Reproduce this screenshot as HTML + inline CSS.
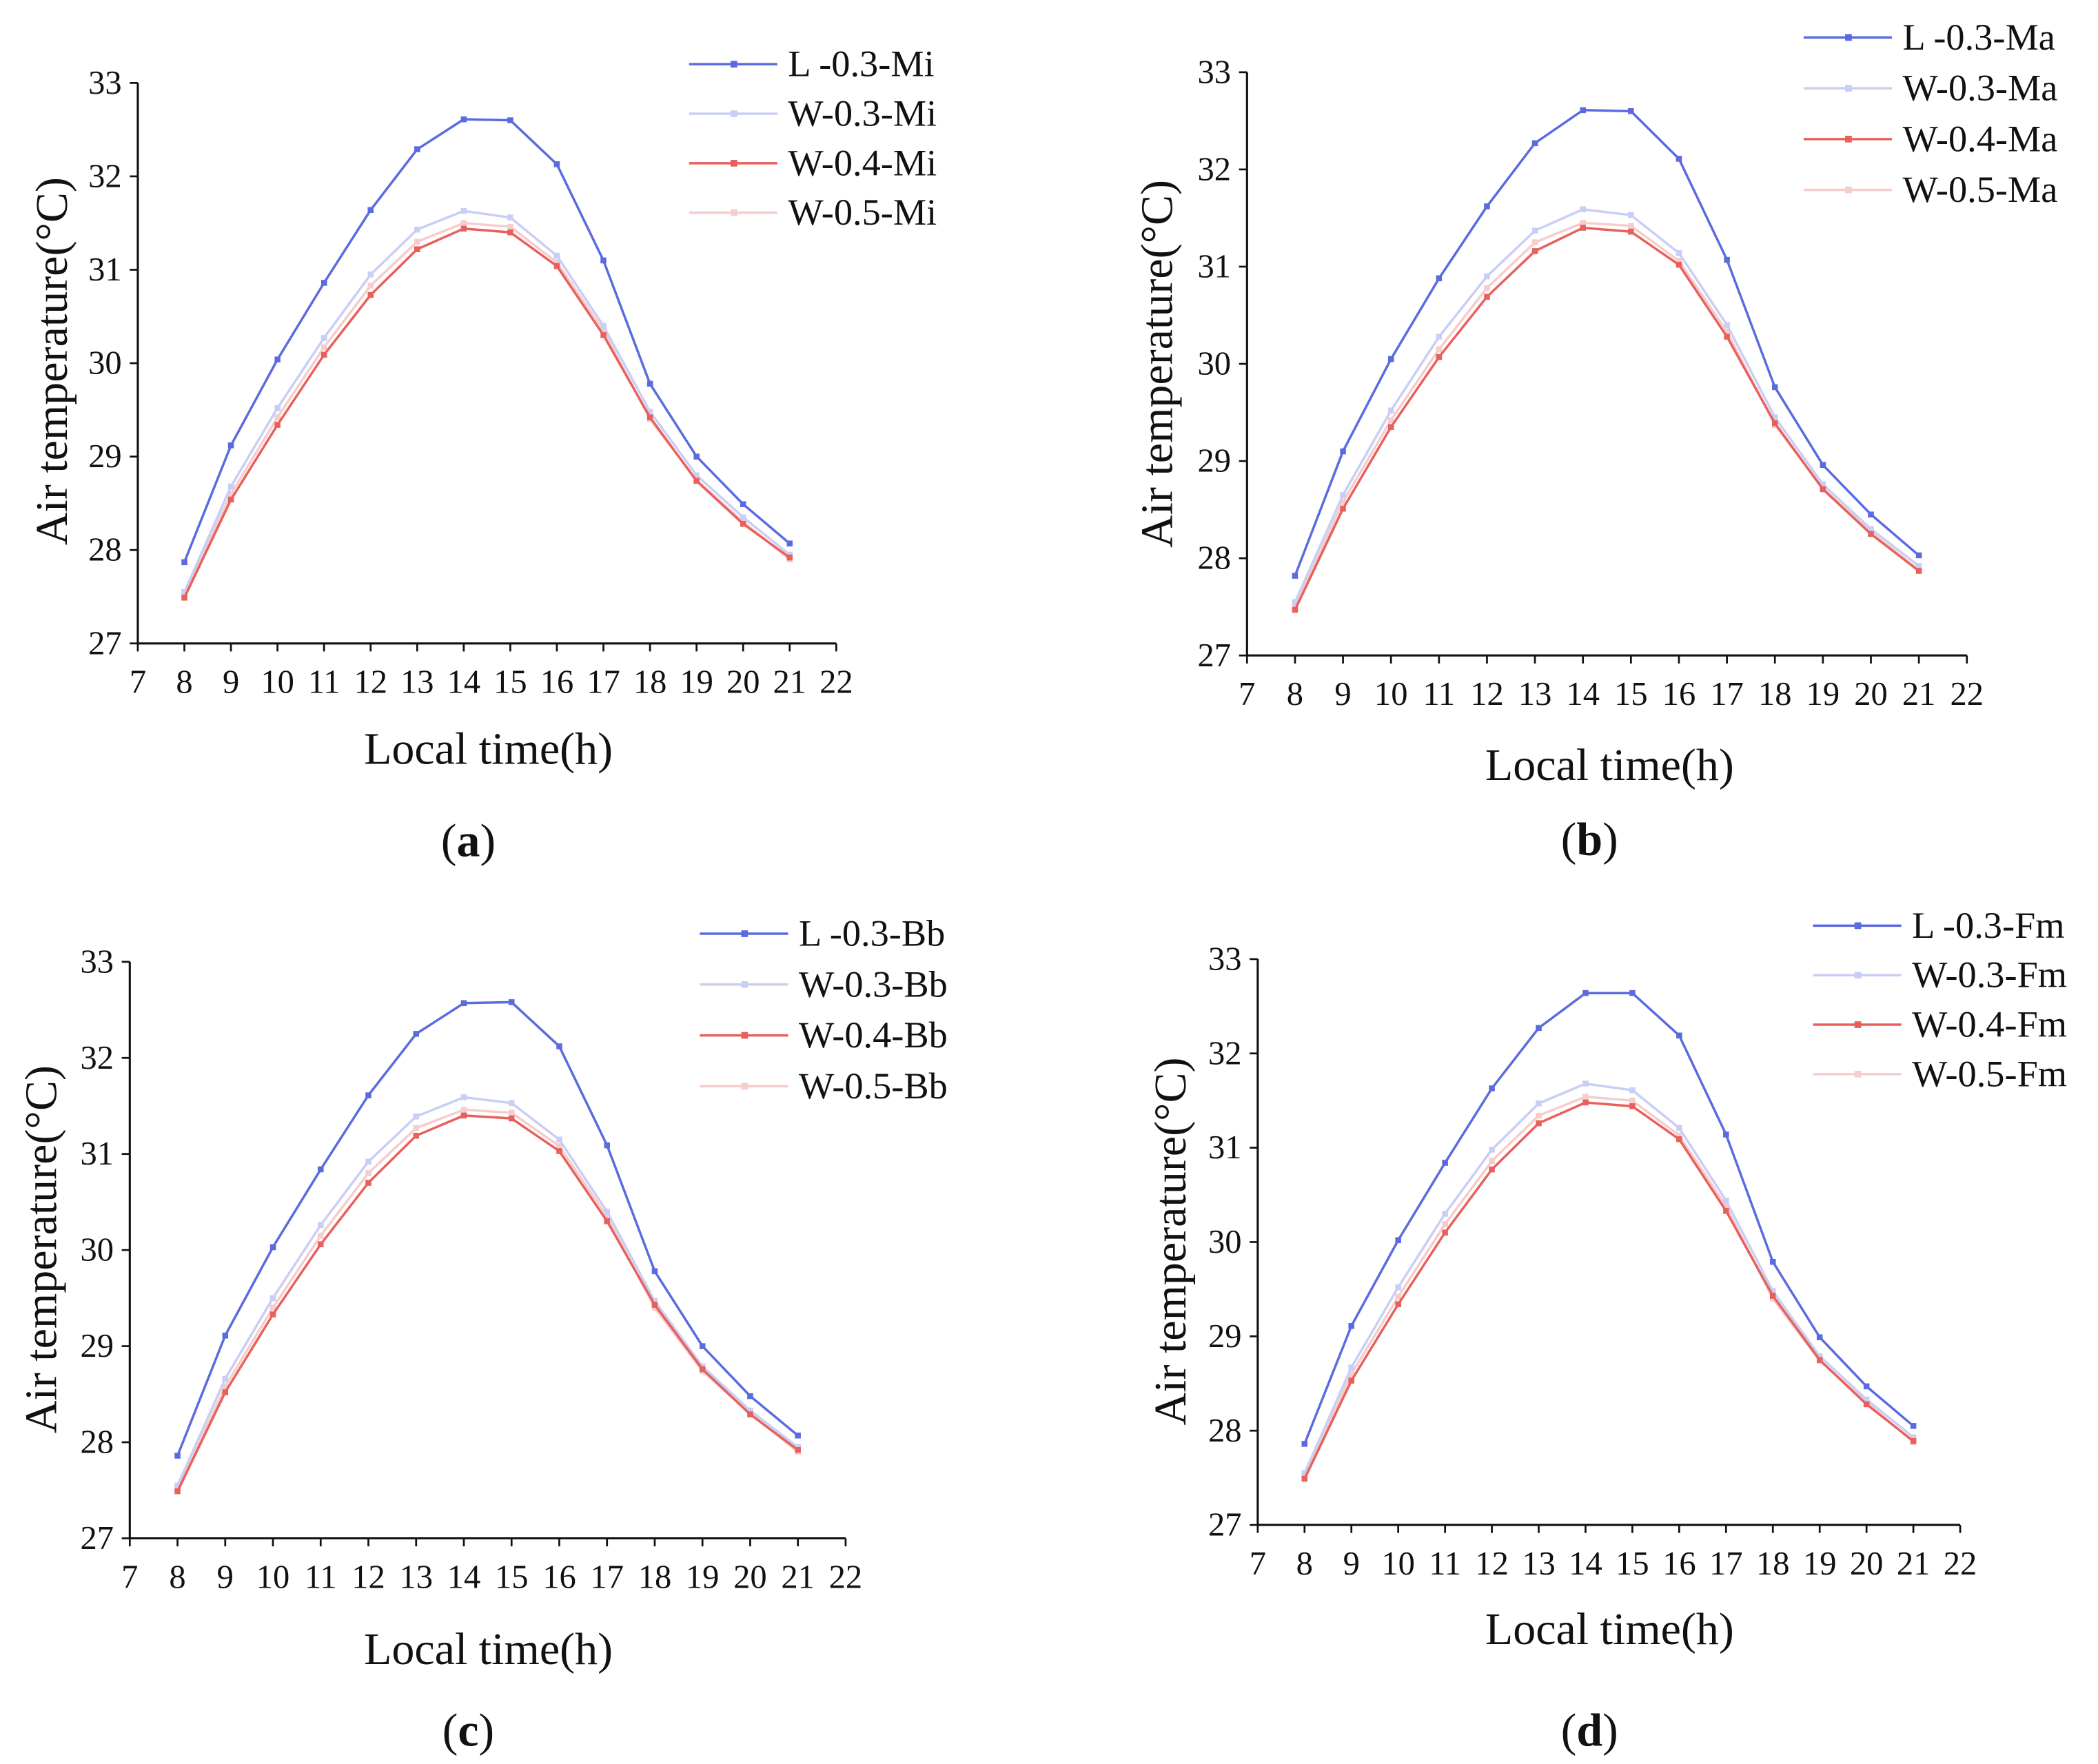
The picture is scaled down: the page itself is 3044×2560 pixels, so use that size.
<!DOCTYPE html>
<html><head><meta charset="utf-8"><style>
html,body{margin:0;padding:0;background:#fff;}
svg{display:block;}
text{font-family:"Liberation Serif",serif;fill:#111;}
</style></head><body>
<svg id="chart" width="3044" height="2560" viewBox="0 0 1568 1318.7" preserveAspectRatio="none" xmlns="http://www.w3.org/2000/svg"></svg>
<script>
const hours = [8,9,10,11,12,13,14,15,16,17,18,19,20,21];
const xTicks = [7,8,9,10,11,12,13,14,15,16,17,18,19,20,21,22];
const yTicks = [27,28,29,30,31,32,33];
const seriesNames = ["L -0.3","W-0.3","W-0.4","W-0.5"];
const seriesColors = ["#5a6be0","#c9cef6","#e8605c","#f6cccc"];
const panelSuffix = ["Mi","Ma","Bb","Fm"];
const panelLetters = ["a","b","c","d"];
const aL = [27.87,29.12,30.04,30.86,31.64,32.29,32.61,32.60,32.13,31.10,29.78,29.00,28.49,28.07];
const aW3 = [27.55,28.68,29.52,30.27,30.95,31.43,31.63,31.56,31.15,30.40,29.48,28.80,28.35,27.95];
const aW4 = [27.49,28.54,29.34,30.09,30.73,31.22,31.44,31.40,31.04,30.30,29.42,28.74,28.28,27.92];
const aW5 = [27.52,28.60,29.42,30.17,30.83,31.30,31.50,31.46,31.08,30.35,29.40,28.75,28.30,27.90];
const bL = [27.82,29.10,30.05,30.88,31.62,32.27,32.61,32.60,32.11,31.07,29.76,28.96,28.45,28.03];
const bW3 = [27.55,28.65,29.52,30.28,30.90,31.37,31.59,31.53,31.14,30.40,29.45,28.76,28.30,27.92];
const bW4 = [27.47,28.51,29.35,30.07,30.69,31.16,31.40,31.36,31.02,30.28,29.39,28.71,28.25,27.87];
const bW5 = [27.50,28.58,29.42,30.15,30.78,31.25,31.45,31.42,31.06,30.33,29.37,28.72,28.27,27.88];
const cL = [27.86,29.11,30.03,30.84,31.61,32.25,32.57,32.58,32.12,31.09,29.78,29.00,28.48,28.07];
const cW3 = [27.55,28.66,29.50,30.26,30.92,31.39,31.59,31.53,31.15,30.40,29.47,28.79,28.33,27.95];
const cW4 = [27.49,28.52,29.33,30.06,30.70,31.19,31.40,31.37,31.03,30.30,29.43,28.76,28.29,27.92];
const cW5 = [27.51,28.58,29.40,30.15,30.80,31.27,31.46,31.43,31.08,30.35,29.40,28.74,28.30,27.90];
const dL = [27.86,29.11,30.02,30.84,31.63,32.27,32.64,32.64,32.19,31.14,29.79,28.99,28.47,28.05];
const dW3 = [27.55,28.67,29.52,30.30,30.98,31.47,31.68,31.61,31.21,30.44,29.48,28.79,28.33,27.93];
const dW4 = [27.49,28.53,29.34,30.10,30.77,31.26,31.48,31.44,31.09,30.33,29.43,28.75,28.28,27.89];
const dW5 = [27.51,28.60,29.42,30.19,30.86,31.34,31.54,31.50,31.13,30.38,29.40,28.74,28.30,27.88];
const panelData = [[aL,aW3,aW4,aW5],[bL,bW3,bW4,bW5],[cL,cW3,cW4,cW5],[dL,dW3,dW4,dW5]];

const layouts = [
 {x0:103,x1:625,yTop:62,yBot:481,legX:515,legY:48,legGap:37,label:[350,640],xtitle:[365,571],ytitle:[40,270]},
 {x0:932,x1:1470,yTop:54,yBot:490,legX:1348,legY:28,legGap:38,label:[1188,639],xtitle:[1203,583],ytitle:[866,272]},
 {x0:97,x1:632,yTop:719,yBot:1150,legX:523,legY:698,legGap:38,label:[350,1305],xtitle:[365,1244],ytitle:[32,934]},
 {x0:940,x1:1465,yTop:717,yBot:1140,legX:1355,legY:692,legGap:37,label:[1188,1305],xtitle:[1203,1229],ytitle:[876,928]}
];
const NS="http://www.w3.org/2000/svg";
const svg=document.getElementById('chart');
function mk(tag,attrs,parent){const e=document.createElementNS(NS,tag);for(const k in attrs)e.setAttribute(k,attrs[k]);(parent||svg).appendChild(e);return e;}

layouts.forEach((L,p)=>{
  const g=mk('g',{});
  
  
  const xs=v=>L.x0+(v-7)/15*(L.x1-L.x0);
  const ys=v=>L.yBot-(v-27)/6*(L.yBot-L.yTop);
  const ax=mk('path',{d:`M${L.x0},${L.yTop}V${L.yBot}H${L.x1}`,stroke:'#111','stroke-width':1.6,fill:'none'},g);
  
  
  xTicks.forEach(t=>{
    mk('line',{x1:xs(t),x2:xs(t),y1:L.yBot,y2:L.yBot+6,stroke:'#111','stroke-width':1.4},g);
    const tx=mk('text',{x:xs(t),y:L.yBot+37,'text-anchor':'middle','font-size':25},g);
    tx.textContent=t;
    
    
  });
  yTicks.forEach(t=>{
    mk('line',{x1:L.x0-6,x2:L.x0,y1:ys(t),y2:ys(t),stroke:'#111','stroke-width':1.4},g);
    const tx=mk('text',{x:L.x0-12,y:ys(t)+8,'text-anchor':'end','font-size':25},g);
    tx.textContent=t;
    
    
  });
  const xt=mk('text',{x:L.xtitle[0],y:L.xtitle[1],'text-anchor':'middle','font-size':34},g);
  xt.textContent='Local time(h)';
  
  
  const yt=mk('text',{x:0,y:0,'text-anchor':'middle','font-size':34,transform:`translate(${L.ytitle[0]+10},${L.ytitle[1]}) rotate(-90)`},g);
  yt.textContent='Air temperature(°C)';
  
  
  const pl=mk('text',{x:L.label[0],y:L.label[1],'text-anchor':'middle','font-size':35},g);
  pl.innerHTML='(<tspan font-weight="bold">'+panelLetters[p]+'</tspan>)';
  
  
  [3,1,2,0].forEach(s=>{
    const vals=panelData[p][s];
    const pts=hours.map((h,i)=>xs(h).toFixed(1)+','+ys(vals[i]).toFixed(1)).join(' ');
    const pl2=mk('polyline',{points:pts,fill:'none',stroke:seriesColors[s],'stroke-width':1.8},g);
    
    
    hours.forEach((h,i)=>{
      const m=mk('rect',{x:xs(h)-2.2,y:ys(vals[i])-2.2,width:4.4,height:4.4,fill:seriesColors[s]},g);
      
      
    });
  });
  seriesNames.forEach((n,s)=>{
    const y=L.legY+s*L.legGap;
    const lg=mk('g',{},g);
    
    
    mk('line',{x1:L.legX,x2:L.legX+66,y1:y,y2:y,stroke:seriesColors[s],'stroke-width':1.8},lg);
    mk('rect',{x:L.legX+31,y:y-2.5,width:5,height:5,fill:seriesColors[s]},lg);
    const t=mk('text',{x:L.legX+74,y:y+9,'font-size':28},lg);
    t.textContent=n+'-'+panelSuffix[p];
  });
});
</script>
</body></html>
